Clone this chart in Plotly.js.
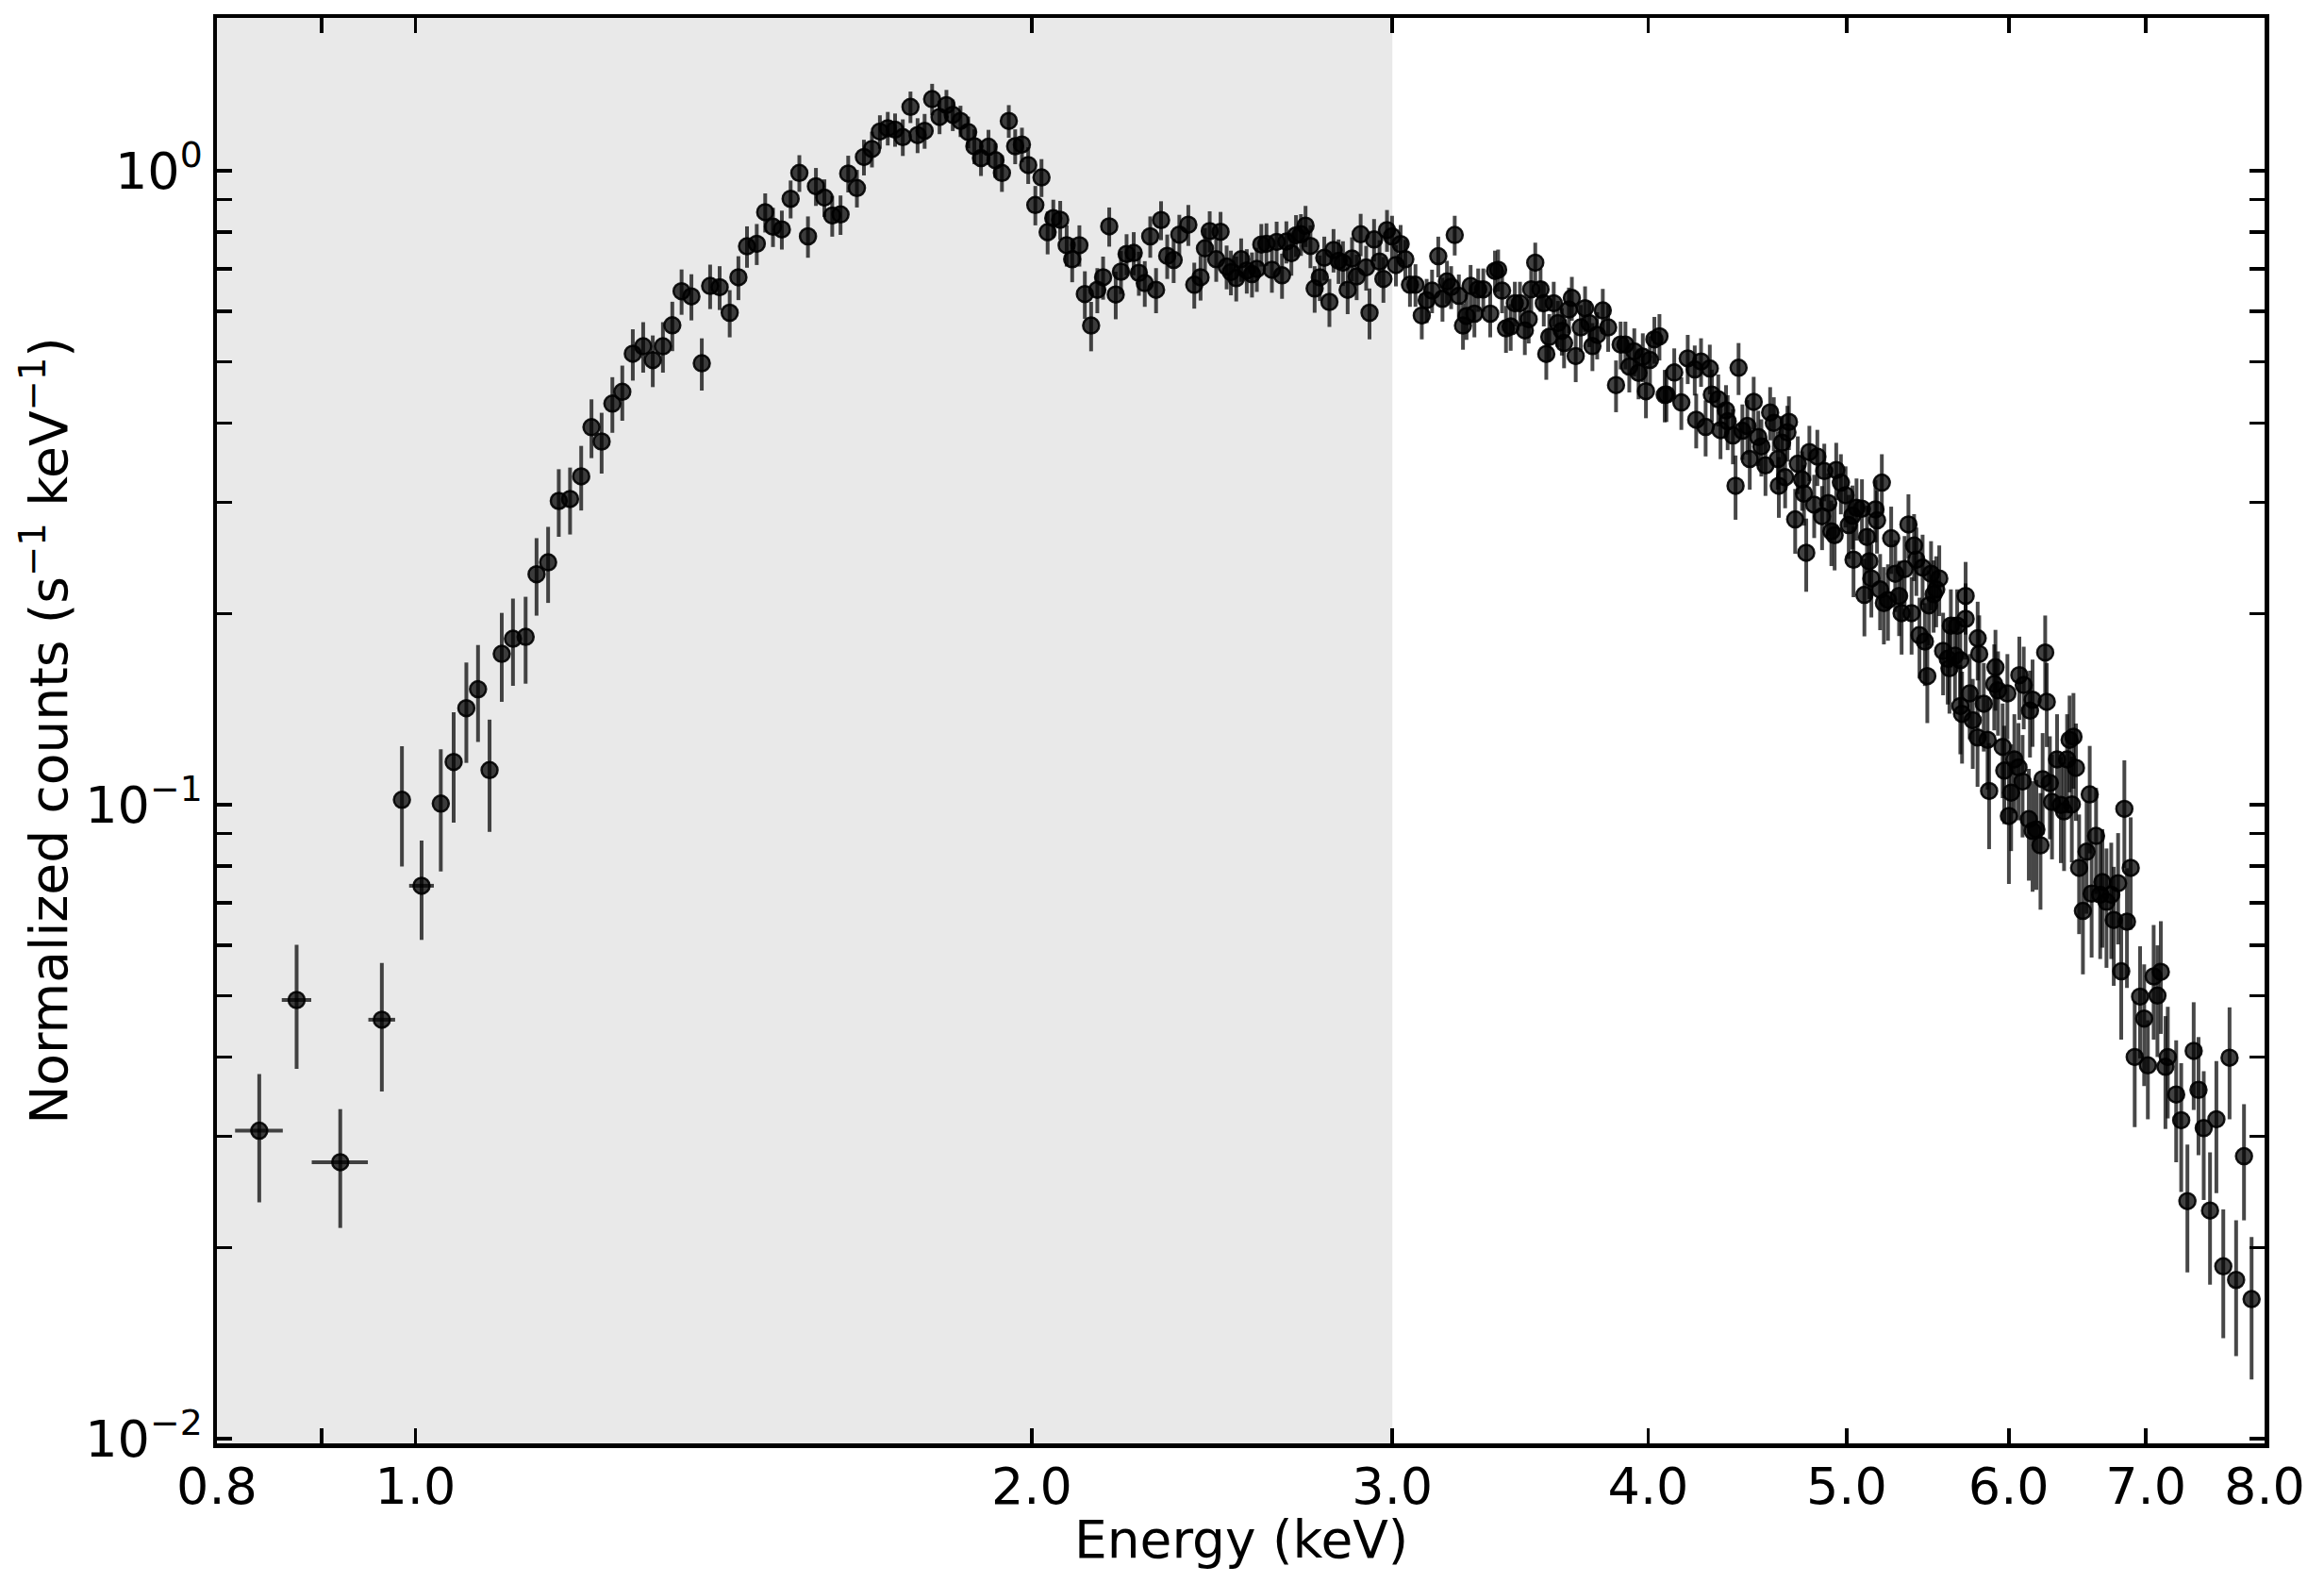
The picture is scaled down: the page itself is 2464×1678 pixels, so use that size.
<!DOCTYPE html>
<html>
<head>
<meta charset="utf-8">
<script src="https://cdn.plot.ly/plotly-3.0.1.min.js"></script>
<style>
  html, body { margin: 0; padding: 0; background: #ffffff; }
  #chart { width: 2464px; height: 1678px; }
</style>
</head>
<body>
<div id="chart"></div>
<script>
/* X-ray spectrum: normalized counts vs energy, log-log, with the soft band
 * (below 3 keV) shaded. */

// widest low-energy bins, where the horizontal (bin) bars stick out of the marker
const lowBinEnergy = [0.839, 0.875, 0.919, 0.963, 1.007];
const lowBinRate = [0.0306, 0.0492, 0.0273, 0.0458, 0.0745];
const lowBinErr = [0.0070, 0.0109, 0.0058, 0.0105, 0.0133];
const lowBinHalfWidth = [0.0225, 0.0145, 0.029, 0.0145, 0.014];

// 1.0 - 1.4 keV: steep rise
const riseEnergy = [0.985, 1.029, 1.044, 1.059, 1.073, 1.087, 1.102, 1.116, 1.132, 1.146,
  1.161, 1.175, 1.190, 1.205, 1.219, 1.233, 1.248, 1.262, 1.277, 1.292,
  1.306, 1.321, 1.335, 1.349, 1.364, 1.380];
const riseRate = [0.1018, 0.1004, 0.1168, 0.142, 0.1521, 0.1134, 0.173, 0.1827, 0.184, 0.231,
  0.2412, 0.3014, 0.3035, 0.3296, 0.394, 0.374, 0.4292, 0.448, 0.5144, 0.5286,
  0.5027, 0.5286, 0.5703, 0.6456, 0.6336, 0.497];
const riseErr = [0.0219, 0.0219, 0.0231, 0.0256, 0.0265, 0.0228, 0.0277, 0.0287, 0.0288, 0.0323,
  0.0331, 0.0368, 0.0367, 0.0385, 0.0419, 0.0411, 0.0432, 0.0447, 0.0478, 0.0483,
  0.047, 0.0483, 0.051, 0.053, 0.053, 0.047];

// 1.4 - 2.4 keV: Si line bump
const peakEnergy = [1.393, 1.408, 1.424, 1.438, 1.452, 1.468, 1.482, 1.495, 1.510, 1.525,
  1.540, 1.555, 1.569, 1.584, 1.598, 1.613, 1.627, 1.643, 1.656, 1.671,
  1.686, 1.701, 1.715, 1.730, 1.745, 1.759, 1.773, 1.788, 1.803, 1.817,
  1.830, 1.846, 1.862, 1.875, 1.889, 1.905, 1.920, 1.934, 1.949, 1.963,
  1.978, 1.992, 2.008, 2.022, 2.036, 2.049, 2.065, 2.080, 2.093, 2.110,
  2.123, 2.138, 2.153, 2.167, 2.182, 2.198, 2.211, 2.225, 2.243, 2.256,
  2.271, 2.285, 2.300, 2.313, 2.329, 2.346, 2.361];
const peakRate = [0.658, 0.655, 0.597, 0.679, 0.760, 0.767, 0.860, 0.816, 0.808, 0.903,
  0.992, 0.788, 0.945, 0.907, 0.850, 0.853, 0.990, 0.939, 1.051, 1.082,
  1.153, 1.167, 1.161, 1.130, 1.261, 1.138, 1.156, 1.297, 1.216, 1.269,
  1.225, 1.198, 1.151, 1.093, 1.047, 1.091, 1.039, 0.992, 1.198, 1.093,
  1.100, 1.021, 0.883, 0.976, 0.800, 0.842, 0.837, 0.763, 0.725, 0.763,
  0.639, 0.570, 0.649, 0.679, 0.817, 0.638, 0.693, 0.739, 0.742, 0.690,
  0.665, 0.788, 0.649, 0.836, 0.734, 0.723, 0.793];
const peakErr = [0.053, 0.052, 0.051, 0.054, 0.057, 0.057, 0.061, 0.058, 0.057, 0.062,
  0.066, 0.059, 0.065, 0.062, 0.063, 0.061, 0.066, 0.064, 0.068, 0.070,
  0.070, 0.071, 0.070, 0.075, 0.072, 0.072, 0.073, 0.074, 0.074, 0.072,
  0.070, 0.068, 0.066, 0.069, 0.066, 0.069, 0.065, 0.066, 0.071, 0.069,
  0.069, 0.068, 0.063, 0.067, 0.062, 0.058, 0.059, 0.057, 0.058, 0.057,
  0.055, 0.051, 0.053, 0.053, 0.058, 0.055, 0.054, 0.055, 0.058, 0.055,
  0.055, 0.059, 0.053, 0.059, 0.059, 0.058, 0.059];

// 2.4 - 4.1 keV: flat top across the 3 keV boundary
const plateauEnergy = [2.385, 2.401, 2.418, 2.430, 2.443, 2.461, 2.473, 2.490, 2.502, 2.517,
  2.531, 2.547, 2.562, 2.576, 2.589, 2.604, 2.620, 2.634, 2.650, 2.663,
  2.678, 2.692, 2.707, 2.721, 2.736, 2.749, 2.765, 2.779, 2.795, 2.808,
  2.824, 2.838, 2.853, 2.867, 2.882, 2.895, 2.913, 2.924, 2.939, 2.957,
  2.970, 2.982, 2.999, 3.012, 3.028, 3.044, 3.060, 3.079, 3.101, 3.118,
  3.137, 3.159, 3.174, 3.190, 3.205, 3.218, 3.233, 3.248, 3.261, 3.276,
  3.290, 3.304, 3.323, 3.349, 3.367, 3.379, 3.394, 3.409, 3.427, 3.443,
  3.463, 3.482, 3.497, 3.507, 3.523, 3.544, 3.557, 3.567, 3.579, 3.597,
  3.614, 3.630, 3.639, 3.659, 3.671, 3.687, 3.708, 3.726, 3.744, 3.757,
  3.777, 3.801, 3.824, 3.858, 3.878, 3.899, 3.916, 3.938, 3.957, 3.976,
  3.990, 4.008, 4.028, 4.051, 4.075];
const plateauRate = [0.822, 0.661, 0.679, 0.754, 0.803, 0.725, 0.801, 0.706, 0.692, 0.677,
  0.725, 0.696, 0.687, 0.700, 0.765, 0.767, 0.698, 0.772, 0.684, 0.773,
  0.741, 0.791, 0.794, 0.819, 0.761, 0.652, 0.679, 0.729, 0.621, 0.750,
  0.721, 0.716, 0.649, 0.727, 0.681, 0.794, 0.704, 0.597, 0.779, 0.719,
  0.675, 0.806, 0.788, 0.710, 0.766, 0.725, 0.661, 0.661, 0.591, 0.625,
  0.647, 0.733, 0.628, 0.669, 0.656, 0.792, 0.635, 0.570, 0.590, 0.658,
  0.595, 0.650, 0.650, 0.595, 0.695, 0.698, 0.647, 0.564, 0.568, 0.618,
  0.618, 0.560, 0.583, 0.650, 0.716, 0.650, 0.618, 0.514, 0.547, 0.618,
  0.575, 0.559, 0.535, 0.604, 0.630, 0.510, 0.566, 0.607, 0.575, 0.529,
  0.551, 0.602, 0.566, 0.459, 0.532, 0.532, 0.491, 0.519, 0.480, 0.509,
  0.449, 0.503, 0.542, 0.548, 0.443];
const plateauErr = [0.061, 0.055, 0.055, 0.058, 0.060, 0.057, 0.060, 0.056, 0.056, 0.055,
  0.057, 0.056, 0.056, 0.056, 0.059, 0.059, 0.056, 0.059, 0.056, 0.059,
  0.058, 0.060, 0.060, 0.061, 0.059, 0.055, 0.056, 0.058, 0.054, 0.059,
  0.058, 0.058, 0.055, 0.058, 0.056, 0.061, 0.057, 0.055, 0.060, 0.058,
  0.056, 0.061, 0.061, 0.053, 0.055, 0.053, 0.051, 0.051, 0.049, 0.050,
  0.051, 0.054, 0.050, 0.052, 0.051, 0.057, 0.051, 0.048, 0.049, 0.052,
  0.049, 0.051, 0.051, 0.049, 0.053, 0.053, 0.051, 0.048, 0.048, 0.050,
  0.050, 0.048, 0.049, 0.051, 0.054, 0.051, 0.050, 0.046, 0.047, 0.050,
  0.048, 0.048, 0.047, 0.050, 0.050, 0.046, 0.048, 0.050, 0.048, 0.046,
  0.047, 0.049, 0.048, 0.043, 0.046, 0.046, 0.044, 0.045, 0.044, 0.045,
  0.042, 0.045, 0.046, 0.046, 0.042];

// 4.1 - 5.8 keV: turnover
const fallEnergy = [4.083, 4.119, 4.152, 4.182, 4.215, 4.222, 4.245, 4.267, 4.287, 4.297,
  4.328, 4.339, 4.366, 4.374, 4.400, 4.413, 4.428, 4.447, 4.472, 4.484,
  4.504, 4.527, 4.543, 4.564, 4.588, 4.607, 4.628, 4.633, 4.650, 4.666,
  4.686, 4.678, 4.719, 4.733, 4.756, 4.766, 4.778, 4.795, 4.821, 4.838,
  4.864, 4.876, 4.898, 4.915, 4.933, 4.942, 4.968, 4.994, 5.012, 5.033,
  5.039, 5.056, 5.087, 5.101, 5.116, 5.129, 5.141, 5.165, 5.174, 5.192,
  5.202, 5.214, 5.238, 5.257, 5.281, 5.304, 5.319, 5.337, 5.360, 5.379,
  5.394, 5.408, 5.427, 5.446, 5.460, 5.485, 5.498, 5.514, 5.530, 5.549,
  5.573, 5.602, 5.622, 5.648, 5.662, 5.682, 5.716, 5.716, 5.794, 5.804,
  5.475, 5.613, 5.693];
const fallRate = [0.4435, 0.4805, 0.4311, 0.5058, 0.486, 0.4048, 0.5001, 0.3943, 0.4876, 0.4435,
  0.436, 0.3898, 0.4189, 0.4025, 0.3823, 0.3185, 0.4888, 0.3889, 0.3957, 0.351,
  0.432, 0.3802, 0.3674, 0.343, 0.4156, 0.4002, 0.351, 0.3185, 0.3724, 0.3285,
  0.4016, 0.3867, 0.2818, 0.345, 0.3258, 0.3095, 0.2497, 0.3599, 0.2974, 0.3542,
  0.2851, 0.336, 0.2991, 0.2699, 0.2662, 0.3372, 0.3221, 0.3077, 0.2761, 0.2857,
  0.2435, 0.294, 0.293, 0.2143, 0.2644, 0.2421, 0.2274, 0.2923, 0.2809, 0.2185,
  0.3221, 0.208, 0.2104, 0.2632, 0.2314, 0.2135, 0.2005, 0.2353, 0.2767, 0.2005,
  0.2563, 0.2435, 0.1851, 0.2366, 0.1809, 0.2063, 0.2314, 0.2148, 0.2185, 0.2274,
  0.1748, 0.1699, 0.1916, 0.1719, 0.1916, 0.169, 0.2135, 0.1964, 0.183, 0.1729,
  0.1595, 0.1642, 0.1391];
const fallErr = [0.042, 0.044, 0.041, 0.045, 0.044, 0.040, 0.044, 0.040, 0.044, 0.042,
  0.041, 0.039, 0.040, 0.040, 0.038, 0.037, 0.046, 0.039, 0.039, 0.037,
  0.041, 0.038, 0.038, 0.036, 0.040, 0.039, 0.037, 0.035, 0.038, 0.035,
  0.039, 0.039, 0.033, 0.036, 0.035, 0.034, 0.033, 0.036, 0.034, 0.036,
  0.033, 0.035, 0.034, 0.032, 0.032, 0.035, 0.035, 0.034, 0.032, 0.033,
  0.031, 0.033, 0.033, 0.030, 0.032, 0.031, 0.030, 0.033, 0.032, 0.030,
  0.035, 0.029, 0.029, 0.032, 0.030, 0.029, 0.028, 0.030, 0.032, 0.028,
  0.031, 0.030, 0.027, 0.030, 0.027, 0.028, 0.029, 0.028, 0.028, 0.029,
  0.026, 0.026, 0.027, 0.026, 0.027, 0.026, 0.028, 0.027, 0.026, 0.026,
  0.025, 0.025, 0.023];

// 5.7 - 7.2 keV: exponential tail, Fe K region
const tailEnergy = [5.911, 6.072, 6.102, 6.251, 6.262, 5.742, 5.834, 5.903, 5.928, 5.991,
  6.145, 6.163, 5.682, 5.762, 5.793, 5.859, 5.959, 5.970, 6.038, 6.066,
  6.094, 5.869, 6.016, 6.001, 6.137, 6.163, 6.189, 6.218, 6.233, 6.284,
  6.299, 6.335, 6.362, 6.385, 6.407, 6.425, 6.453, 6.441, 6.471, 6.494,
  6.522, 6.549, 6.572, 6.586, 6.619, 6.650, 6.666, 6.697, 6.733, 6.752,
  6.785, 6.809, 6.833, 6.853, 6.882, 6.913, 6.955, 6.987, 7.062, 7.092,
  7.119, 7.175];
const tailRate = [0.1647, 0.1601, 0.1545, 0.1738, 0.1453, 0.1498, 0.1443, 0.155, 0.1515, 0.1498,
  0.1407, 0.1464, 0.1431, 0.1359, 0.1277, 0.1266, 0.1234, 0.1132, 0.1179, 0.1145,
  0.1088, 0.1051, 0.1045, 0.096, 0.0949, 0.0909, 0.0914, 0.0863, 0.1097, 0.1082,
  0.101, 0.1179, 0.0999, 0.0976, 0.1179, 0.1266, 0.128, 0.1001, 0.1143, 0.0795,
  0.068, 0.0843, 0.1038, 0.0724, 0.0893, 0.0721, 0.0755, 0.0703, 0.0721, 0.0658,
  0.0752, 0.0546, 0.0985, 0.0654, 0.0795, 0.0400, 0.0498, 0.046, 0.0536, 0.050,
  0.0545, 0.0400];
const tailErr = [0.024, 0.024, 0.023, 0.025, 0.022, 0.023, 0.023, 0.024, 0.023, 0.023,
  0.022, 0.023, 0.023, 0.022, 0.021, 0.021, 0.021, 0.020, 0.021, 0.020,
  0.020, 0.020, 0.020, 0.021, 0.019, 0.018, 0.018, 0.018, 0.020, 0.020,
  0.019, 0.021, 0.019, 0.019, 0.021, 0.022, 0.022, 0.019, 0.020, 0.017,
  0.014, 0.017, 0.020, 0.015, 0.017, 0.015, 0.016, 0.015, 0.015, 0.014,
  0.015, 0.012, 0.019, 0.014, 0.016, 0.009, 0.010, 0.010, 0.011, 0.010,
  0.011, 0.008];

// 7.0 - 7.9 keV: last bins before the 8 keV edge
const edgeEnergy = [7.016, 7.156, 7.243, 7.284, 7.335, 7.387, 7.427, 7.471, 7.524, 7.578,
  7.637, 7.691, 7.748, 7.817, 7.884];
const edgeRate = [0.0388, 0.0386, 0.0349, 0.0318, 0.0237, 0.0409, 0.0355, 0.0309, 0.0229, 0.0319,
  0.0187, 0.0399, 0.0178, 0.0279, 0.0166];
const edgeErr = [0.0069, 0.0078, 0.0076, 0.0073, 0.0054, 0.0079, 0.0075, 0.0071, 0.0054, 0.0075,
  0.0043, 0.0080, 0.0043, 0.0058, 0.0042];

// ticks: labelled energies, the unlabelled 0.9, y decades and their 2..9 minors
const energyTicks = [0.8, 1, 2, 3, 4, 5, 6, 7, 8];
const energyTickText = ["0.8", "1.0", "2.0", "3.0", "4.0", "5.0", "6.0", "7.0", "8.0"];
const energyMinorTicks = [0.9];
const rateTicks = [0.01, 0.1, 1];
const rateTickText = ["10<sup>\u22122</sup>", "10<sup>\u22121</sup>", "10<sup>0</sup>"];
const rateMinorTicks = [0.02, 0.03, 0.04, 0.05, 0.06, 0.07, 0.08, 0.09,
  0.2, 0.3, 0.4, 0.5, 0.6, 0.7, 0.8, 0.9];

const SOFT_BAND = [0.8, 3.0];   // shaded energy interval
const X_TITLE = "Energy (keV)";
const Y_TITLE = "Normalized counts (s<sup>\u22121</sup> keV<sup>\u22121</sup>)";

const INK = "#000000";
const FONT = "DejaVu Sans, Liberation Sans, sans-serif";
const ERR_COLOR = "rgba(0, 0, 0, 0.72)";
const MARKER = {
  symbol: "circle", size: 17,
  color: "rgba(0, 0, 0, 0.74)",
  line: { color: "rgba(0, 0, 0, 0.9)", width: 2.5 },
};

const energy = [].concat(riseEnergy, peakEnergy, plateauEnergy, fallEnergy, tailEnergy, edgeEnergy);
const rate = [].concat(riseRate, peakRate, plateauRate, fallRate, tailRate, edgeRate);
const rateErr = [].concat(riseErr, peakErr, plateauErr, fallErr, tailErr, edgeErr);

const errY = (arr) => ({ type: "data", array: arr, visible: true, color: ERR_COLOR, thickness: 4, width: 0 });

const traces = [
  {
    x: lowBinEnergy, y: lowBinRate, type: "scatter", mode: "markers",
    marker: MARKER,
    error_y: errY(lowBinErr),
    error_x: { type: "data", array: lowBinHalfWidth, visible: true, color: ERR_COLOR, thickness: 4, width: 0 },
    hoverinfo: "x+y",
  },
  {
    x: energy, y: rate, type: "scatter", mode: "markers",
    marker: MARKER,
    error_y: errY(rateErr),
    hoverinfo: "x+y",
  },
];

const axisCommon = {
  type: "log",
  showgrid: false, zeroline: false,
  showline: true, linecolor: INK, linewidth: 4.5, mirror: "ticks",
  ticks: "inside", ticklen: 16, tickwidth: 3.5, tickcolor: INK,
  tickfont: { family: FONT, size: 54, color: INK },
};
const minorCommon = { ticks: "inside", ticklen: 16, tickwidth: 3.5, tickcolor: INK, showgrid: false, tickmode: "array" };

const layout = {
  width: 2464, height: 1678,
  margin: { l: 230, r: 63, t: 19, b: 148 },
  paper_bgcolor: "#ffffff",
  plot_bgcolor: "#ffffff",
  font: { family: FONT, color: INK, size: 54 },
  showlegend: false,
  xaxis: Object.assign({}, axisCommon, {
    range: [Math.log10(0.8), Math.log10(8)],
    tickmode: "array", tickvals: energyTicks, ticktext: energyTickText,
    ticklabelstandoff: -5,
    minor: Object.assign({}, minorCommon, { tickvals: energyMinorTicks }),
  }),
  yaxis: Object.assign({}, axisCommon, {
    range: [-2.0074, 0.241],
    tickmode: "array", tickvals: rateTicks, ticktext: rateTickText,
    minor: Object.assign({}, minorCommon, { tickvals: rateMinorTicks }),
    title: { text: Y_TITLE, font: { family: FONT, size: 55, color: INK }, standoff: 2 },
  }),
  // x title as a paper annotation so it can sit lower than the axis-title clamp allows
  annotations: [{
    text: X_TITLE, showarrow: false,
    xref: "paper", x: 0.5, xanchor: "center",
    yref: "paper", y: 0, yanchor: "top", yshift: -69,
    borderpad: 0,
    font: { family: FONT, size: 55, color: INK },
  }],
  shapes: [{
    type: "rect", layer: "below",
    xref: "x", yref: "paper",
    x0: SOFT_BAND[0], x1: SOFT_BAND[1], y0: 0, y1: 1,
    fillcolor: "#e9e9e9", line: { width: 0 },
  }],
};

Plotly.newPlot("chart", traces, layout, { displayModeBar: false, staticPlot: true });
</script>
</body>
</html>
